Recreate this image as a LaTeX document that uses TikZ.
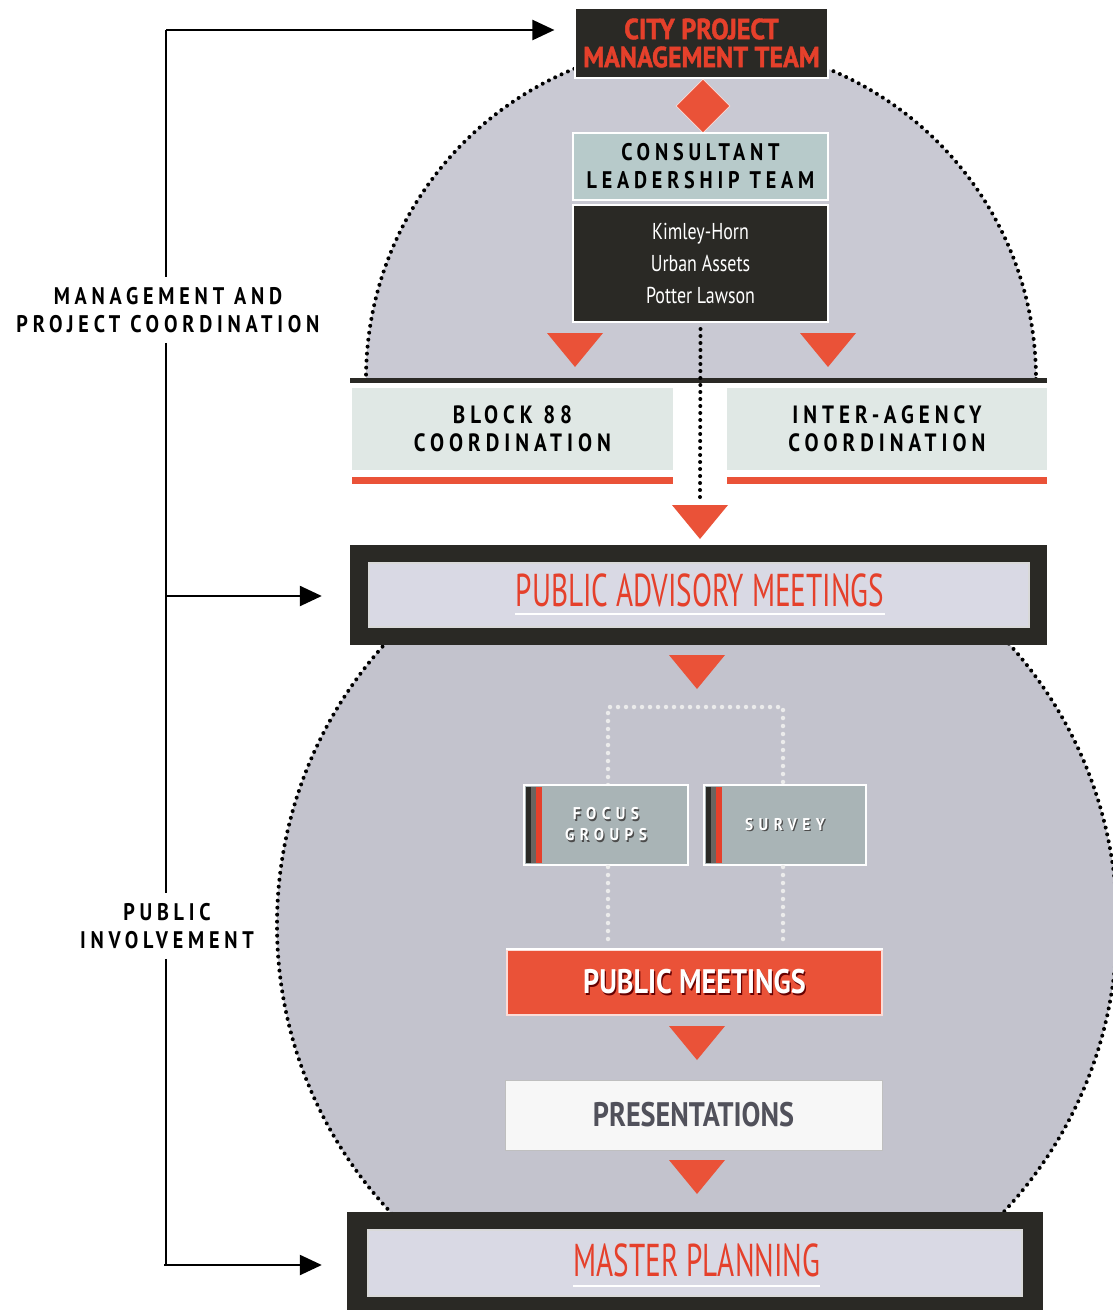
\documentclass[tikz,border=0pt]{standalone}
\usepackage{fontspec}
\setmainfont{PT Sans}
\newfontfamily\heavyfont[FakeStretch=0.9,FakeBold=1.5]{PT Sans}
\newfontfamily\trackfont[FakeStretch=0.84,LetterSpace=20]{PT Sans}
\newfontfamily\sidefont[FakeStretch=0.84,LetterSpace=20]{PT Sans}
\newfontfamily\narrowfont[FakeStretch=0.635]{PT Sans}
\newfontfamily\firmfont[FakeStretch=0.78]{PT Sans}
\newfontfamily\boldnarrow[FakeStretch=0.83]{PT Sans}
\newfontfamily\smalltrack[FakeStretch=0.9,LetterSpace=32]{PT Sans}
\usetikzlibrary{arrows.meta,calc,shapes.geometric}

\definecolor{ink}{HTML}{2A2925}
\definecolor{tomato}{HTML}{EA5238}
\definecolor{redtext}{HTML}{E5402B}
\definecolor{haze}{HTML}{C9C9D3}
\definecolor{tealgray}{HTML}{B7CACA}
\definecolor{mist}{HTML}{E0E8E5}
\definecolor{panel}{HTML}{D9D9E4}
\definecolor{slate}{HTML}{A9B4B6}
\definecolor{graytxt}{HTML}{51515B}
\definecolor{stripegray}{HTML}{6A6460}

% white text with a dark drop shadow
\newcommand\dropshadow[2]{\leavevmode\rlap{\kern1.3pt\raisebox{-1.3pt}{\textcolor{#1}{#2}}}#2}

\tikzset{
  box/.style={inner sep=0pt, align=center},
  darkbox/.style={box, fill=ink, draw=white, line width=1.2pt},
  blackdots/.style={draw=black, line width=4pt, line cap=round, dash pattern=on 0pt off 7pt},
  whitedots/.style={draw=white!92!black, line width=4.5pt, line cap=round, dash pattern=on 0pt off 8pt},
  bracket/.style={draw=black, line width=2.4pt},
  bracketarrow/.style={bracket, -{Triangle[length=22pt,width=20pt]}},
  downtri/.pic={\fill[tomato] (-28,-17) -- (28,-17) -- (0,17) -- cycle;},
}

\begin{document}
\begin{tikzpicture}[x=1pt,y=-1pt]
\useasboundingbox (0,0) rectangle (1113,1310);
\fill[white] (0,0) rectangle (1113,1310);

% upper dome
\begin{scope}
  \clip (0,0) rectangle (1113,379);
  \fill[haze] (701,379) circle (335);
  \draw[blackdots] (701,379) circle (335);
\end{scope}
\draw[ink, line width=5pt] (350,380) -- (1047,380);

% lower sphere
\begin{scope}
  \clip (0,645) rectangle (1113,1212);
  \fill[haze!97!black] (697,925) circle (420);
  \draw[blackdots] (697,925) circle (420);
\end{scope}

% management chain
\node[darkbox, minimum width=253pt, minimum height=70pt,
      font=\heavyfont\bfseries\fontsize{29}{28}\selectfont, text=redtext]
  (city) at (701.5,43) {CITY PROJECT\\MANAGEMENT TEAM};
\node[diamond, fill=tomato, draw=white!80!tomato, line width=0.8pt,
      minimum width=54pt, minimum height=54pt, inner sep=0pt]
  (link) at (703,106) {};
\node[box, fill=tealgray, draw=white, line width=2pt,
      minimum width=255pt, minimum height=67pt,
      font=\trackfont\bfseries\fontsize{24}{28}\selectfont]
  (consult) at (700.5,166.5) {CONSULTANT\\LEADERSHIP TEAM};
\node[darkbox, minimum width=255pt, minimum height=117pt, line width=2pt,
      font=\firmfont\fontsize{23}{32}\selectfont, text=white]
  (firms) at (700.5,263.5) {Kimley-Horn\\Urban Assets\\Potter Lawson};
\pic at (575,350) {downtri};
\pic at (828,350) {downtri};

% coordination boxes
\node[box, fill=mist, minimum width=321pt, minimum height=82pt,
      font=\trackfont\bfseries\fontsize{25}{28}\selectfont]
  (block) at (512.5,429) {BLOCK 88\\COORDINATION};
\node[box, fill=mist, minimum width=320pt, minimum height=82pt,
      font=\trackfont\bfseries\fontsize{25}{28}\selectfont]
  (inter) at (887,429) {INTER-AGENCY\\COORDINATION};
\fill[tomato] ([yshift=-7pt]block.south west) rectangle ([yshift=-14pt]block.south east);
\fill[tomato] ([yshift=-7pt]inter.south west) rectangle ([yshift=-14pt]inter.south east);

\coordinate (mid) at (700,522);
\draw[blackdots] (firms.south) ++(0,6) -- (700,500);
\pic at (mid) {downtri};

% public advisory meetings
\node[box, fill=ink, minimum width=697pt, minimum height=100pt] (adv) at (698.5,595) {};
\node[box, fill=panel, draw=white!85!black, line width=2pt, minimum width=660pt, minimum height=64pt] (advpanel) at (699,595) {};
\node[box, font=\narrowfont\fontsize{46}{46}\selectfont, text=redtext]
  (advtext) at (700,590) {PUBLIC ADVISORY MEETINGS};
\draw[white, line width=2pt] (515,614) -- (885,614);
\pic at (697,672) {downtri};

% research boxes
\draw[whitedots] (608,785) -- (608,707) -- (783,707) -- (783,785);
\node[box, fill=slate, draw=white, line width=2pt, minimum width=164pt, minimum height=80pt,
      font=\smalltrack\bfseries\fontsize{17}{21}\selectfont, text=white]
  (focus) at (606,825) {\dropshadow{gray!60!black}{FOCUS}\\\dropshadow{gray!60!black}{GROUPS}};
\node[box, fill=slate, draw=white, line width=2pt, minimum width=162pt, minimum height=80pt,
      font=\smalltrack\bfseries\fontsize{17}{21}\selectfont, text=white]
  (survey) at (785,825) {\dropshadow{gray!60!black}{SURVEY}};
\foreach \b in {focus,survey}{
  \fill[ink] ([xshift=3pt,yshift=-3pt]\b.north west) rectangle ([xshift=8pt,yshift=3pt]\b.south west);
  \fill[stripegray] ([xshift=8pt,yshift=-3pt]\b.north west) rectangle ([xshift=13pt,yshift=3pt]\b.south west);
  \fill[redtext] ([xshift=13pt,yshift=-3pt]\b.north west) rectangle ([xshift=19pt,yshift=3pt]\b.south west);
}

\node[box, fill=tomato, draw=white!80!tomato, line width=1.5pt, minimum width=375pt, minimum height=65pt,
      font=\boldnarrow\bfseries\fontsize{34}{34}\selectfont, text=white]
  (pubmeet) at (694.5,982.5) {\dropshadow{red!40!black}{PUBLIC MEETINGS}};
\draw[whitedots] (608,867) -- (608,945);
\draw[whitedots] (783,867) -- (783,945);
\draw[white, line width=2pt] (pubmeet.north west) -- (pubmeet.north east);
\pic at (697,1043) {downtri};

\node[box, fill=white!97!black, draw=gray!50, line width=1pt, minimum width=377pt, minimum height=70pt,
      font=\boldnarrow\bfseries\fontsize{34}{34}\selectfont, text=graytxt]
  (pres) at (693.5,1115) {PRESENTATIONS};
\pic at (697,1177) {downtri};

% master planning
\node[box, fill=ink, minimum width=696pt, minimum height=108pt] (master) at (695,1266) {};
\node[box, fill=panel, draw=white!85!black, line width=2pt, minimum width=654pt, minimum height=66pt] (masterpanel) at (695,1263) {};
\node[box, font=\narrowfont\fontsize{46}{46}\selectfont, text=redtext]
  (mastertext) at (697,1260) {MASTER PLANNING};
\draw[white, line width=2pt] (573,1286) -- (820,1286);

% left-hand bracket
\node[box, font=\sidefont\bfseries\fontsize{24}{28}\selectfont] (mgmt) at (168,310)
  {MANAGEMENT AND\\PROJECT COORDINATION};
\node[box, font=\sidefont\bfseries\fontsize{24}{28}\selectfont] (pub) at (167,926)
  {PUBLIC\\INVOLVEMENT};
\coordinate (b1) at (166,30);
\coordinate (b2) at (166,596);
\coordinate (b3) at (164,1265);
\draw[bracket] (b1) -- ([yshift=10pt]mgmt.north -| b1);
\draw[bracket] ([yshift=-10pt]mgmt.south -| b1) -- ([yshift=10pt]pub.north -| b1);
\draw[bracket] ([yshift=-10pt]pub.south -| b1) -- (b1 |- b3) -- (b3);
\draw[bracketarrow, shorten >=20pt] (b1) -- (b1 -| city.west);
\draw[bracketarrow, shorten >=28pt] (b2) -- (b2 -| adv.west);
\draw[bracketarrow, shorten >=25pt] (b3) -- (b3 -| master.west);
\end{tikzpicture}
\end{document}
